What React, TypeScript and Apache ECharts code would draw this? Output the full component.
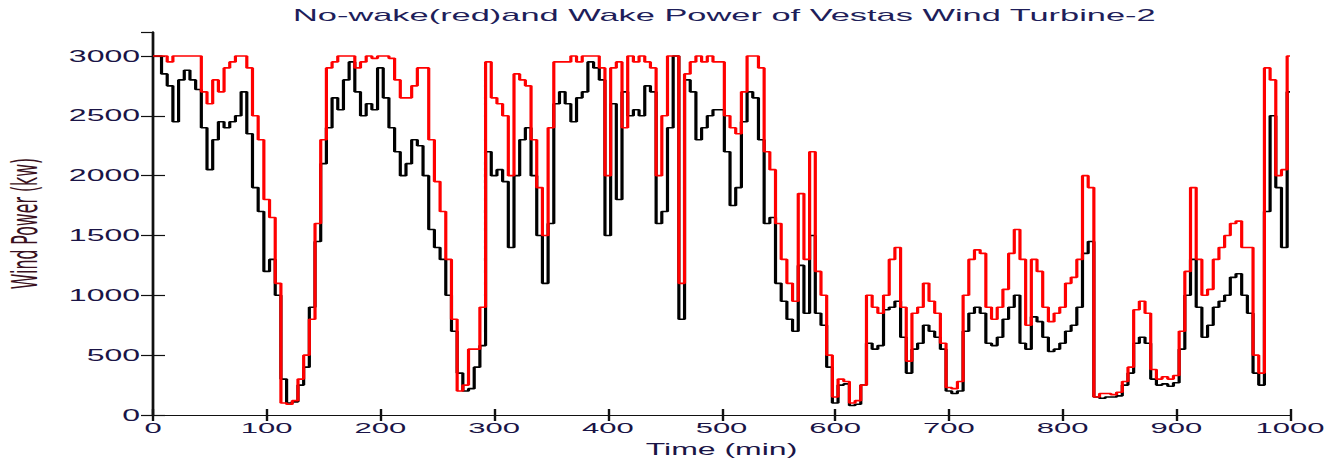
import React, { useEffect, useRef } from "react";
import * as echarts from "echarts";

// sampling step of the read-off series (minutes)
const STEP_MIN = 5;

// No-wake power (red), kW, at t = 0, 5, 10, ... 1000 min
const noWakePower = [
  3000, 3000, 3000, 2950, 3000, 3000, 3000, 3000, 3000, 2700, 2600, 2800, 2700, 2900, 2950, 3000, 3000, 2900, 2500, 2300, 1800, 1650, 1100, 100, 90, 120, 300, 500, 800, 1600, 2300, 2900, 2950,
  3000, 3000, 3000, 2900, 2950, 3000, 2980, 3000, 3000, 2980, 2800, 2650, 2650, 2750, 2900, 2900, 2300, 1950, 1700, 1300, 800, 200, 250, 550, 550, 900, 2950, 2650, 2600, 2500, 2000, 2850, 2800,
  2750, 2300, 1900, 1500, 2400, 2950, 2950, 2950, 3000, 2950, 3000, 3000, 3000, 2900, 2000, 2900, 2950, 2400, 3000, 2950, 3000, 2950, 2900, 2000, 2500, 3000, 3000, 1100, 2850, 2950, 3000, 2950, 3000, 2950,
  2950, 2500, 2400, 2350, 2700, 3000, 3000, 2900, 2200, 2050, 1600, 1300, 1100, 950, 1850, 1300, 2200, 1200, 1000, 500, 150, 300, 280, 100, 120, 250, 1000, 900, 850, 1000, 1300, 1400, 900,
  450, 850, 900, 1100, 950, 850, 600, 230, 220, 280, 1000, 1300, 1380, 1350, 900, 800, 900, 1050, 1350, 1550, 1300, 750, 1300, 1200, 900, 780, 850, 900, 1100, 1150, 1300, 2000, 1900, 150,
  180, 180, 170, 190, 280, 400, 880, 950, 850, 380, 300, 320, 300, 330, 700, 1200, 1900, 1300, 1000, 1050, 1300, 1400, 1500, 1600, 1620, 1400, 1400, 500, 350, 2900, 2800, 2000, 2050, 3000,
];

// Wake power (black), kW, at the same times
const wakePower = [
  3000, 3000, 2850, 2750, 2450, 2800, 2880, 2800, 2720, 2400, 2050, 2300, 2450, 2400, 2450, 2500, 2700, 2350, 1900, 1700, 1200, 1300, 1000, 300, 100, 110, 250, 400, 900, 1450, 2100, 2400, 2650,
  2550, 2800, 2950, 2700, 2500, 2600, 2550, 2900, 2650, 2400, 2200, 2000, 2100, 2300, 2250, 2000, 1550, 1400, 1300, 1000, 700, 350, 200, 220, 400, 580, 2200, 2000, 2050, 1950, 1400, 2000, 2300,
  2400, 2000, 1500, 1100, 1600, 2600, 2700, 2600, 2450, 2650, 2700, 2950, 2900, 2800, 1500, 2600, 1800, 2700, 2500, 2550, 2500, 2750, 2700, 1600, 1700, 2400, 3000, 800, 2800, 2700, 2300, 2400, 2500, 2550,
  2550, 2200, 1750, 1900, 2450, 2700, 2650, 2300, 1600, 1650, 1100, 950, 800, 700, 1250, 850, 1500, 850, 750, 400, 100, 250, 260, 80, 90, 250, 600, 550, 580, 880, 900, 950, 650,
  350, 550, 600, 750, 700, 650, 550, 200, 180, 200, 700, 850, 900, 850, 600, 580, 650, 800, 900, 1000, 600, 550, 820, 780, 650, 530, 550, 600, 700, 750, 900, 1350, 1450, 150,
  140, 150, 150, 160, 250, 350, 600, 650, 600, 300, 250, 260, 240, 270, 550, 1000, 1300, 900, 650, 750, 900, 950, 1000, 1150, 1180, 1000, 850, 350, 250, 1700, 2500, 1900, 1400, 2700,
];

const TITLE = "No-wake(red)and Wake Power of Vestas Wind Turbine-2";
const X_NAME = "Time (min)";
const Y_NAME = "Wind Power (kw)";

const STRETCH = 2; // the figure is stretched horizontally
const INNER_W = 665;
const H = 459;

export default function App() {
  const ref = useRef<HTMLDivElement>(null);

  useEffect(() => {
    if (!ref.current) return;
    const chart = echarts.init(ref.current, null, { renderer: "svg" });
    const toPairs = (arr: number[]) => arr.map((v, i) => [i * STEP_MIN, v]);
    const labelColor = "#1a1446";
    const axisLine = { show: true, lineStyle: { color: "#111", width: 1.2 } };
    const tick = { show: true, inside: true, length: 6, lineStyle: { color: "#111", width: 1.2 } };

    chart.setOption({
      animation: false,
      backgroundColor: "#ffffff",
      title: {
        text: TITLE,
        left: 146.5,
        top: 6,
        padding: 0,
        textStyle: {
          fontFamily: "'Liberation Sans', Arial, sans-serif",
          fontSize: 17.2,
          fontWeight: "normal",
          color: "#1e1e5a",
        },
      },
      grid: {
        left: 76.5,
        right: 20,
        top: 32,
        bottom: 44,
        containLabel: false,
        outerBoundsMode: "none",
      },
      xAxis: [
        {
          type: "value",
          min: 0,
          max: 1000,
          interval: 100,
          name: X_NAME,
          nameLocation: "middle",
          nameGap: 21,
          nameTextStyle: {
            fontFamily: "'Liberation Sans', Arial, sans-serif",
            fontSize: 16,
            color: labelColor,
          },
          axisLine,
          axisTick: tick,
          splitLine: { show: false },
          axisLabel: {
            margin: 5,
            fontFamily: "'Liberation Sans', Arial, sans-serif",
            fontSize: 15.5,
            color: labelColor,
            formatter: (v: number) => String(v),
          },
        },
        {
          type: "value",
          position: "top",
          min: 0,
          max: 1000,
          interval: 100,
          axisLine,
          axisTick: tick,
          axisLabel: { show: false },
          splitLine: { show: false },
        },
      ],
      yAxis: [
        {
          type: "value",
          min: 0,
          max: 3200,
          interval: 500,
          name: Y_NAME,
          nameLocation: "middle",
          nameGap: 55,
          nameTextStyle: {
            fontFamily: "'Liberation Sans Narrow', 'DejaVu Sans Condensed', sans-serif",
            fontSize: 17.5,
            color: "#3a1020",
          },
          axisLine,
          axisTick: tick,
          splitLine: { show: false },
          axisLabel: {
            margin: 6.5,
            showMaxLabel: false,
            fontFamily: "'Liberation Sans', Arial, sans-serif",
            fontSize: 16,
            color: labelColor,
            formatter: (v: number) => (v > 3000 ? "" : String(v)),
          },
        },
        {
          type: "value",
          position: "right",
          min: 0,
          max: 3200,
          interval: 500,
          axisLine,
          axisTick: tick,
          axisLabel: { show: false },
          splitLine: { show: false },
        },
      ],
      series: [
        {
          name: "Wake",
          type: "line",
          step: "middle",
          data: toPairs(wakePower),
          showSymbol: false,
          symbol: "none",
          lineStyle: { color: "#000000", width: 1.6 },
          z: 2,
        },
        {
          name: "No-wake",
          type: "line",
          step: "middle",
          data: toPairs(noWakePower),
          showSymbol: false,
          symbol: "none",
          lineStyle: { color: "#ff0000", width: 1.6 },
          z: 3,
        },
      ],
    });
    return () => chart.dispose();
  }, []);

  return (
    <div
      style={{
        position: "fixed",
        left: 0,
        top: 0,
        width: 1329,
        height: H,
        overflow: "hidden",
        background: "#ffffff",
      }}
    >
      <div
        ref={ref}
        style={{
          width: INNER_W,
          height: H,
          transform: `scaleX(${STRETCH})`,
          transformOrigin: "0 0",
        }}
      />
    </div>
  );
}
